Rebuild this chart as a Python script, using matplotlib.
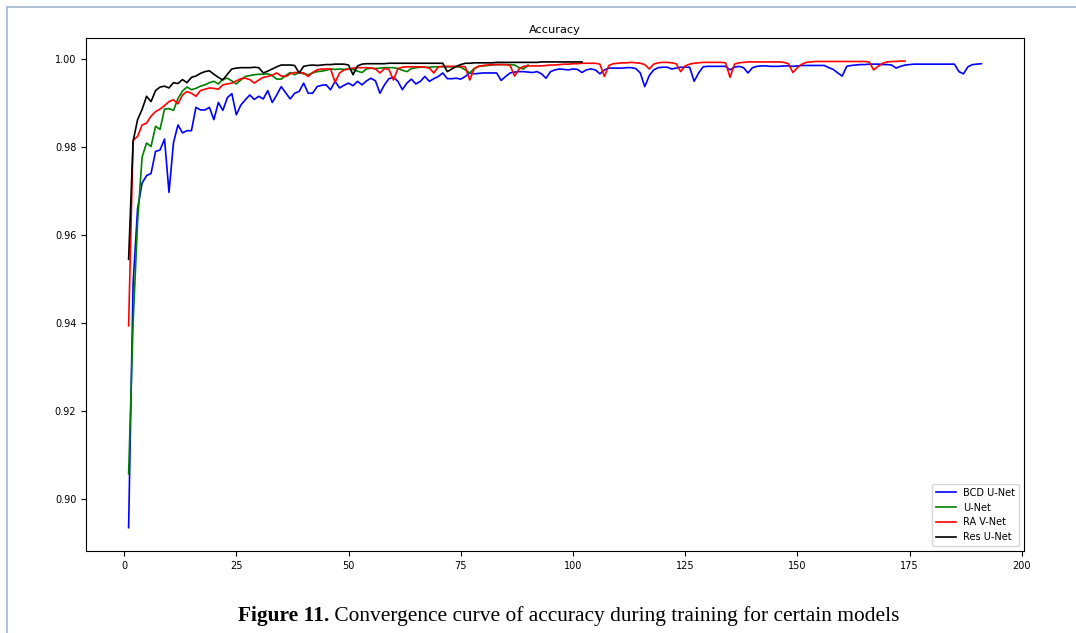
import matplotlib
matplotlib.use("Agg")
import matplotlib.pyplot as plt
from matplotlib.lines import Line2D

# accuracy per epoch
bcd_unet = [0.8936, 0.9490, 0.9660, 0.9718, 0.9735, 0.9740, 0.9790, 0.9793, 0.9818, 0.9697,
            0.9810, 0.9850, 0.9832, 0.9837, 0.9837, 0.9890, 0.9884, 0.9884, 0.9890, 0.9862,
            0.9901, 0.9883, 0.9912, 0.9921, 0.9873, 0.9895, 0.9907, 0.9918, 0.9908, 0.9915,
            0.9909, 0.9928, 0.9901, 0.9918, 0.9937, 0.9923, 0.9909, 0.9922, 0.9926, 0.9945,
            0.9922, 0.9922, 0.9937, 0.9940, 0.9941, 0.9930, 0.9949, 0.9934, 0.9940, 0.9945,
            0.9939, 0.9949, 0.9941, 0.9950, 0.9956, 0.9950, 0.9922, 0.9941, 0.9955, 0.9958,
            0.9949, 0.9930, 0.9945, 0.9954, 0.9943, 0.9949, 0.9960, 0.9949, 0.9955, 0.9960,
            0.9968, 0.9955, 0.9955, 0.9956, 0.9954, 0.9960, 0.9968, 0.9966, 0.9967, 0.9968,
            0.9968, 0.9968, 0.9968, 0.9951, 0.9960, 0.9968, 0.9970, 0.9971, 0.9971, 0.9970,
            0.9969, 0.9971, 0.9966, 0.9956, 0.9971, 0.9975, 0.9977, 0.9976, 0.9975, 0.9977,
            0.9976, 0.9969, 0.9975, 0.9977, 0.9975, 0.9966, 0.9975, 0.9979, 0.9979, 0.9979,
            0.9979, 0.9980, 0.9980, 0.9978, 0.9968, 0.9937, 0.9962, 0.9975, 0.9980, 0.9981,
            0.9981, 0.9977, 0.9979, 0.9981, 0.9981, 0.9981, 0.9949, 0.9968, 0.9982, 0.9983,
            0.9983, 0.9983, 0.9983, 0.9983, 0.9975, 0.9981, 0.9983, 0.9980, 0.9968, 0.9980,
            0.9983, 0.9984, 0.9984, 0.9983, 0.9983, 0.9983, 0.9984, 0.9984, 0.9983, 0.9984,
            0.9985, 0.9985, 0.9985, 0.9985, 0.9985, 0.9985, 0.9980, 0.9976, 0.9968, 0.9961,
            0.9983, 0.9985, 0.9986, 0.9987, 0.9987, 0.9988, 0.9988, 0.9988, 0.9987, 0.9987,
            0.9986, 0.9979, 0.9983, 0.9986, 0.9987, 0.9988, 0.9988, 0.9988, 0.9988, 0.9988,
            0.9988, 0.9988, 0.9988, 0.9988, 0.9988, 0.9971, 0.9966, 0.9982, 0.9987, 0.9988,
            0.9989]

unet = [0.9058, 0.9400, 0.9630, 0.9777, 0.9809, 0.9801, 0.9847, 0.9840, 0.9886, 0.9887,
        0.9883, 0.9910, 0.9927, 0.9936, 0.9930, 0.9933, 0.9938, 0.9941, 0.9946, 0.9949,
        0.9943, 0.9954, 0.9956, 0.9950, 0.9943, 0.9952, 0.9960, 0.9962, 0.9964, 0.9965,
        0.9965, 0.9966, 0.9962, 0.9954, 0.9954, 0.9962, 0.9969, 0.9964, 0.9969, 0.9966,
        0.9964, 0.9968, 0.9971, 0.9972, 0.9974, 0.9977, 0.9976, 0.9977, 0.9976, 0.9977,
        0.9976, 0.9972, 0.9969, 0.9977, 0.9979, 0.9978, 0.9979, 0.9980, 0.9980, 0.9980,
        0.9978, 0.9974, 0.9971, 0.9978, 0.9980, 0.9981, 0.9981, 0.9981, 0.9982, 0.9982,
        0.9982, 0.9982, 0.9982, 0.9982, 0.9981, 0.9975, 0.9968, 0.9978, 0.9983, 0.9984,
        0.9985, 0.9986, 0.9987, 0.9987, 0.9987, 0.9987, 0.9986, 0.9980, 0.9977, 0.9986]

ra_vnet = [0.9394, 0.9815, 0.9824, 0.9850, 0.9854, 0.9870, 0.9880, 0.9886, 0.9894, 0.9903,
           0.9907, 0.9898, 0.9918, 0.9926, 0.9922, 0.9915, 0.9928, 0.9931, 0.9934, 0.9933,
           0.9931, 0.9941, 0.9943, 0.9945, 0.9950, 0.9955, 0.9956, 0.9953, 0.9945, 0.9952,
           0.9958, 0.9960, 0.9963, 0.9968, 0.9961, 0.9960, 0.9966, 0.9969, 0.9969, 0.9968,
           0.9960, 0.9969, 0.9975, 0.9977, 0.9977, 0.9977, 0.9947, 0.9968, 0.9975, 0.9977,
           0.9979, 0.9980, 0.9980, 0.9980, 0.9979, 0.9977, 0.9968, 0.9978, 0.9976, 0.9952,
           0.9978, 0.9981, 0.9982, 0.9982, 0.9982, 0.9982, 0.9981, 0.9979, 0.9968, 0.9982,
           0.9983, 0.9983, 0.9983, 0.9983, 0.9983, 0.9982, 0.9952, 0.9978, 0.9983, 0.9985,
           0.9986, 0.9987, 0.9987, 0.9987, 0.9987, 0.9985, 0.9961, 0.9977, 0.9983, 0.9984,
           0.9984, 0.9984, 0.9984, 0.9985, 0.9986, 0.9986, 0.9987, 0.9988, 0.9988, 0.9989,
           0.9989, 0.9990, 0.9990, 0.9990, 0.9990, 0.9988, 0.9960, 0.9985, 0.9989, 0.9990,
           0.9991, 0.9991, 0.9992, 0.9991, 0.9990, 0.9987, 0.9977, 0.9988, 0.9991, 0.9992,
           0.9992, 0.9991, 0.9989, 0.9971, 0.9984, 0.9988, 0.9990, 0.9991, 0.9992, 0.9992,
           0.9992, 0.9992, 0.9992, 0.9991, 0.9958, 0.9988, 0.9991, 0.9992, 0.9993, 0.9993,
           0.9993, 0.9993, 0.9993, 0.9993, 0.9993, 0.9993, 0.9992, 0.9989, 0.9969, 0.9980,
           0.9988, 0.9992, 0.9993, 0.9994, 0.9994, 0.9994, 0.9994, 0.9994, 0.9994, 0.9994,
           0.9994, 0.9994, 0.9994, 0.9994, 0.9994, 0.9993, 0.9975, 0.9983, 0.9990, 0.9993,
           0.9994, 0.9994, 0.9995, 0.9995]

res_unet = [0.9545, 0.9813, 0.9862, 0.9885, 0.9915, 0.9903, 0.9928, 0.9936, 0.9938, 0.9934,
            0.9946, 0.9944, 0.9953, 0.9946, 0.9958, 0.9961, 0.9967, 0.9971, 0.9973, 0.9965,
            0.9958, 0.9952, 0.9965, 0.9977, 0.9979, 0.9980, 0.9980, 0.9980, 0.9981, 0.9980,
            0.9968, 0.9972, 0.9977, 0.9982, 0.9986, 0.9986, 0.9986, 0.9985, 0.9968, 0.9983,
            0.9985, 0.9986, 0.9985, 0.9986, 0.9987, 0.9987, 0.9988, 0.9988, 0.9988, 0.9986,
            0.9964, 0.9984, 0.9988, 0.9989, 0.9989, 0.9989, 0.9989, 0.9989, 0.9990, 0.9990,
            0.9990, 0.9990, 0.9990, 0.9990, 0.9990, 0.9990, 0.9990, 0.9990, 0.9990, 0.9990,
            0.9990, 0.9971, 0.9977, 0.9983, 0.9987, 0.9990, 0.9990, 0.9991, 0.9991, 0.9991,
            0.9991, 0.9991, 0.9992, 0.9992, 0.9992, 0.9992, 0.9992, 0.9992, 0.9992, 0.9992,
            0.9992, 0.9992, 0.9993, 0.9993, 0.9993, 0.9993, 0.9993, 0.9993, 0.9993, 0.9993,
            0.9993, 0.9993]

series = [("BCD U-Net", bcd_unet, "b"),
          ("U-Net", unet, "g"),
          ("RA V-Net", ra_vnet, "r"),
          ("Res U-Net", res_unet, "k")]

fig = plt.figure(figsize=(10.76, 6.33), dpi=100)
ax = fig.add_axes([0.0799, 0.1295, 0.8718, 0.8109])

for name, acc, col in series:
    epochs = range(1, len(acc) + 1)
    ax.plot(epochs, acc, color=col, lw=1.2, label=name)

ax.set_title("Accuracy", fontsize=8.2, pad=3.5)
ax.tick_params(labelsize=7)
ax.legend(loc="lower right", fontsize=7)

# page frame lines from the paper scan
fig.add_artist(Line2D([6.5 / 1076, 6.5 / 1076], [0, 1 - 6.5 / 633],
                      transform=fig.transFigure, color="#a9bbd3", lw=1.3))
fig.add_artist(Line2D([6.5 / 1076, 1], [1 - 6.5 / 633, 1 - 6.5 / 633],
                      transform=fig.transFigure, color="#a9bbd3", lw=1.3))

# caption: bold label then regular text
t1 = fig.text(0.2210, 0.019, "Figure 11.", fontsize=15.4, weight="bold",
              family="Liberation Serif", va="baseline", ha="left")
ax.annotate(" Convergence curve of accuracy during training for certain models",
            xy=(1, 0), xycoords=t1, va="bottom", ha="left", fontsize=15.4,
            family="Liberation Serif", annotation_clip=False)

fig.savefig("out.png", dpi=100)
